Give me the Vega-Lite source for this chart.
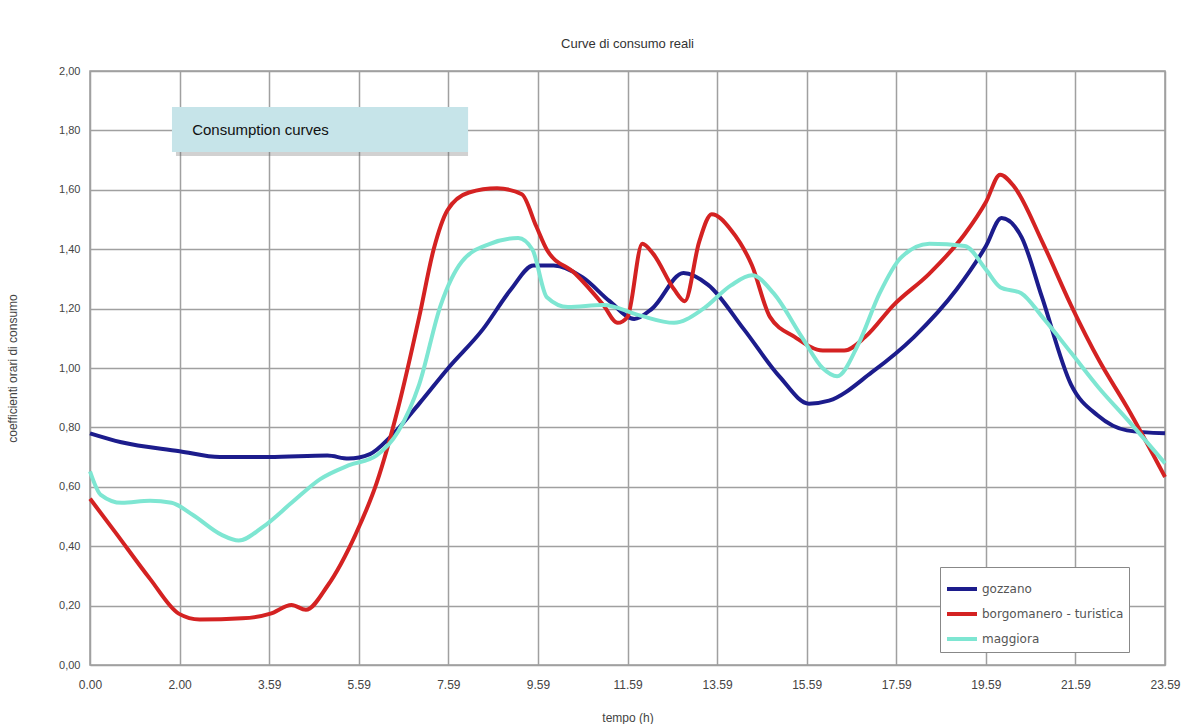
{
  "$schema": "https://vega.github.io/schema/vega-lite/v6.json",
  "autosize": {"type": "none"},
  "padding": {"left": 90, "top": 71, "right": 22, "bottom": 59},
  "width": 1075,
  "height": 594,
  "background": "#ffffff",
  "config": {
    "font": "Liberation Sans",
    "view": {"stroke": "#9a9a9a", "strokeWidth": 1.5}
  },
  "title": {
    "text": "Curve di consumo reali",
    "fontSize": 13,
    "fontWeight": "normal",
    "color": "#333333",
    "offset": 14,
    "anchor": "middle"
  },
  "datasets": {
    "curves": [
      {"serie": "gozzano", "h": 0, "v": 0.78},
      {"serie": "gozzano", "h": 0.7, "v": 0.75},
      {"serie": "gozzano", "h": 2.0, "v": 0.72},
      {"serie": "gozzano", "h": 2.9, "v": 0.70},
      {"serie": "gozzano", "h": 4.0, "v": 0.70},
      {"serie": "gozzano", "h": 5.3, "v": 0.705},
      {"serie": "gozzano", "h": 5.77, "v": 0.695},
      {"serie": "gozzano", "h": 6.25, "v": 0.71},
      {"serie": "gozzano", "h": 6.72, "v": 0.77},
      {"serie": "gozzano", "h": 7.35, "v": 0.88},
      {"serie": "gozzano", "h": 8.0, "v": 1.0},
      {"serie": "gozzano", "h": 8.77, "v": 1.13},
      {"serie": "gozzano", "h": 9.4, "v": 1.265},
      {"serie": "gozzano", "h": 9.9, "v": 1.345},
      {"serie": "gozzano", "h": 10.35, "v": 1.345},
      {"serie": "gozzano", "h": 11.0, "v": 1.305},
      {"serie": "gozzano", "h": 11.6, "v": 1.225},
      {"serie": "gozzano", "h": 12.15, "v": 1.165},
      {"serie": "gozzano", "h": 12.55, "v": 1.2},
      {"serie": "gozzano", "h": 13.25, "v": 1.32},
      {"serie": "gozzano", "h": 13.8, "v": 1.28},
      {"serie": "gozzano", "h": 14.6, "v": 1.13},
      {"serie": "gozzano", "h": 15.4, "v": 0.97},
      {"serie": "gozzano", "h": 16.05, "v": 0.88},
      {"serie": "gozzano", "h": 16.5, "v": 0.89},
      {"serie": "gozzano", "h": 17.45, "v": 0.985},
      {"serie": "gozzano", "h": 18.4, "v": 1.105},
      {"serie": "gozzano", "h": 19.35, "v": 1.265},
      {"serie": "gozzano", "h": 20.0, "v": 1.41},
      {"serie": "gozzano", "h": 20.35, "v": 1.505},
      {"serie": "gozzano", "h": 20.8, "v": 1.44},
      {"serie": "gozzano", "h": 21.25, "v": 1.24},
      {"serie": "gozzano", "h": 21.9, "v": 0.945},
      {"serie": "gozzano", "h": 22.5, "v": 0.84},
      {"serie": "gozzano", "h": 23.15, "v": 0.79},
      {"serie": "gozzano", "h": 24.0, "v": 0.78},

      {"serie": "borgomanero - turistica", "h": 0, "v": 0.56},
      {"serie": "borgomanero - turistica", "h": 0.55, "v": 0.45},
      {"serie": "borgomanero - turistica", "h": 1.34, "v": 0.29},
      {"serie": "borgomanero - turistica", "h": 1.98, "v": 0.173},
      {"serie": "borgomanero - turistica", "h": 2.45, "v": 0.153},
      {"serie": "borgomanero - turistica", "h": 3.4, "v": 0.157},
      {"serie": "borgomanero - turistica", "h": 4.03, "v": 0.173},
      {"serie": "borgomanero - turistica", "h": 4.5, "v": 0.202},
      {"serie": "borgomanero - turistica", "h": 4.82, "v": 0.186},
      {"serie": "borgomanero - turistica", "h": 5.3, "v": 0.266},
      {"serie": "borgomanero - turistica", "h": 5.93, "v": 0.44},
      {"serie": "borgomanero - turistica", "h": 6.4, "v": 0.613},
      {"serie": "borgomanero - turistica", "h": 6.88, "v": 0.866},
      {"serie": "borgomanero - turistica", "h": 7.35, "v": 1.172},
      {"serie": "borgomanero - turistica", "h": 7.67, "v": 1.398},
      {"serie": "borgomanero - turistica", "h": 7.98, "v": 1.531},
      {"serie": "borgomanero - turistica", "h": 8.46, "v": 1.591},
      {"serie": "borgomanero - turistica", "h": 9.09, "v": 1.605},
      {"serie": "borgomanero - turistica", "h": 9.64, "v": 1.585},
      {"serie": "borgomanero - turistica", "h": 9.96, "v": 1.478},
      {"serie": "borgomanero - turistica", "h": 10.2, "v": 1.398},
      {"serie": "borgomanero - turistica", "h": 10.83, "v": 1.318},
      {"serie": "borgomanero - turistica", "h": 11.46, "v": 1.212},
      {"serie": "borgomanero - turistica", "h": 11.78, "v": 1.152},
      {"serie": "borgomanero - turistica", "h": 12.0, "v": 1.172},
      {"serie": "borgomanero - turistica", "h": 12.33, "v": 1.418},
      {"serie": "borgomanero - turistica", "h": 12.57, "v": 1.385},
      {"serie": "borgomanero - turistica", "h": 13.04, "v": 1.265},
      {"serie": "borgomanero - turistica", "h": 13.28, "v": 1.225},
      {"serie": "borgomanero - turistica", "h": 13.6, "v": 1.425},
      {"serie": "borgomanero - turistica", "h": 13.88, "v": 1.518},
      {"serie": "borgomanero - turistica", "h": 14.31, "v": 1.465},
      {"serie": "borgomanero - turistica", "h": 14.78, "v": 1.345},
      {"serie": "borgomanero - turistica", "h": 15.18, "v": 1.172},
      {"serie": "borgomanero - turistica", "h": 15.73, "v": 1.105},
      {"serie": "borgomanero - turistica", "h": 16.36, "v": 1.059},
      {"serie": "borgomanero - turistica", "h": 16.84, "v": 1.059},
      {"serie": "borgomanero - turistica", "h": 17.31, "v": 1.105},
      {"serie": "borgomanero - turistica", "h": 17.94, "v": 1.212},
      {"serie": "borgomanero - turistica", "h": 18.74, "v": 1.318},
      {"serie": "borgomanero - turistica", "h": 19.53, "v": 1.451},
      {"serie": "borgomanero - turistica", "h": 20.0, "v": 1.558},
      {"serie": "borgomanero - turistica", "h": 20.32, "v": 1.651},
      {"serie": "borgomanero - turistica", "h": 20.63, "v": 1.611},
      {"serie": "borgomanero - turistica", "h": 21.26, "v": 1.425},
      {"serie": "borgomanero - turistica", "h": 21.9, "v": 1.212},
      {"serie": "borgomanero - turistica", "h": 22.53, "v": 1.025},
      {"serie": "borgomanero - turistica", "h": 23.16, "v": 0.866},
      {"serie": "borgomanero - turistica", "h": 24.0, "v": 0.633},

      {"serie": "maggiora", "h": 0, "v": 0.652},
      {"serie": "maggiora", "h": 0.24, "v": 0.573},
      {"serie": "maggiora", "h": 0.71, "v": 0.546},
      {"serie": "maggiora", "h": 1.34, "v": 0.553},
      {"serie": "maggiora", "h": 1.82, "v": 0.546},
      {"serie": "maggiora", "h": 2.29, "v": 0.506},
      {"serie": "maggiora", "h": 2.93, "v": 0.439},
      {"serie": "maggiora", "h": 3.32, "v": 0.419},
      {"serie": "maggiora", "h": 3.87, "v": 0.466},
      {"serie": "maggiora", "h": 4.5, "v": 0.546},
      {"serie": "maggiora", "h": 5.14, "v": 0.626},
      {"serie": "maggiora", "h": 5.77, "v": 0.672},
      {"serie": "maggiora", "h": 6.4, "v": 0.706},
      {"serie": "maggiora", "h": 6.88, "v": 0.786},
      {"serie": "maggiora", "h": 7.35, "v": 0.945},
      {"serie": "maggiora", "h": 7.83, "v": 1.212},
      {"serie": "maggiora", "h": 8.3, "v": 1.358},
      {"serie": "maggiora", "h": 8.93, "v": 1.418},
      {"serie": "maggiora", "h": 9.56, "v": 1.438},
      {"serie": "maggiora", "h": 9.88, "v": 1.398},
      {"serie": "maggiora", "h": 10.2, "v": 1.238},
      {"serie": "maggiora", "h": 10.67, "v": 1.205},
      {"serie": "maggiora", "h": 11.46, "v": 1.212},
      {"serie": "maggiora", "h": 12.25, "v": 1.178},
      {"serie": "maggiora", "h": 13.04, "v": 1.152},
      {"serie": "maggiora", "h": 13.68, "v": 1.198},
      {"serie": "maggiora", "h": 14.31, "v": 1.278},
      {"serie": "maggiora", "h": 14.78, "v": 1.312},
      {"serie": "maggiora", "h": 15.26, "v": 1.252},
      {"serie": "maggiora", "h": 15.89, "v": 1.105},
      {"serie": "maggiora", "h": 16.36, "v": 0.999},
      {"serie": "maggiora", "h": 16.68, "v": 0.972},
      {"serie": "maggiora", "h": 17.15, "v": 1.079},
      {"serie": "maggiora", "h": 17.63, "v": 1.252},
      {"serie": "maggiora", "h": 18.1, "v": 1.371},
      {"serie": "maggiora", "h": 18.74, "v": 1.418},
      {"serie": "maggiora", "h": 19.53, "v": 1.411},
      {"serie": "maggiora", "h": 20.0, "v": 1.332},
      {"serie": "maggiora", "h": 20.32, "v": 1.272},
      {"serie": "maggiora", "h": 20.79, "v": 1.252},
      {"serie": "maggiora", "h": 21.26, "v": 1.172},
      {"serie": "maggiora", "h": 21.9, "v": 1.052},
      {"serie": "maggiora", "h": 22.53, "v": 0.932},
      {"serie": "maggiora", "h": 23.16, "v": 0.826},
      {"serie": "maggiora", "h": 24.0, "v": 0.679}
    ],
    "note": [
      {"x1": 1.83, "x2": 8.44, "y1": 1.727, "y2": 1.879, "tx": 2.28, "ty": 1.801, "label": "Consumption curves"}
    ]
  },
  "layer": [
    {
      "data": {"name": "curves"},
      "mark": {"type": "line", "strokeWidth": 4, "interpolate": "monotone"},
      "encoding": {
        "x": {
          "field": "h",
          "type": "quantitative",
          "scale": {"domain": [0, 24], "nice": false, "zero": false},
          "axis": {
            "values": [0, 2, 4, 6, 8, 10, 12, 14, 16, 18, 20, 22, 24],
            "labelExpr": "['0.00','2.00','3.59','5.59','7.59','9.59','11.59','13.59','15.59','17.59','19.59','21.59','23.59'][round(datum.value/2)]",
            "title": "tempo (h)",
            "titleFontSize": 12,
            "titleFontWeight": "normal",
            "titleColor": "#444444",
            "titleY": 52,
            "titleBaseline": "middle",
            "labelFontSize": 12,
            "labelColor": "#444444",
            "labelPadding": 14,
            "labelFlush": false,
            "ticks": false,
            "domain": false,
            "grid": true,
            "gridColor": "#a0a0a0",
            "gridWidth": 1.5
          }
        },
        "y": {
          "field": "v",
          "type": "quantitative",
          "scale": {"domain": [0, 2], "nice": false},
          "axis": {
            "values": [0, 0.2, 0.4, 0.6, 0.8, 1.0, 1.2, 1.4, 1.6, 1.8, 2.0],
            "labelExpr": "replace(format(datum.value, '.2f'), '.', ',')",
            "title": "coefficienti orari di consumo",
            "titleFontSize": 12,
            "titleFontWeight": "normal",
            "titleColor": "#444444",
            "titleX": -78,
            "titleY": 297,
            "titleAlign": "center",
            "titleBaseline": "middle",
            "labelFontSize": 11,
            "labelColor": "#444444",
            "labelPadding": 10,
            "ticks": false,
            "domain": false,
            "grid": true,
            "gridColor": "#a0a0a0",
            "gridWidth": 1.5
          }
        },
        "color": {
          "field": "serie",
          "type": "nominal",
          "scale": {
            "domain": ["gozzano", "borgomanero - turistica", "maggiora"],
            "range": ["#1c1c8c", "#d42222", "#7ee6d2"]
          },
          "legend": {
            "title": null,
            "orient": "none",
            "legendX": 850,
            "legendY": 496,
            "symbolType": "stroke",
            "symbolStrokeWidth": 4,
            "symbolSize": 900,
            "labelFont": "DejaVu Sans",
            "labelFontSize": 12,
            "labelColor": "#555555",
            "labelOffset": 3,
            "rowPadding": 0,
            "fillColor": "#ffffff",
            "strokeColor": "#888888",
            "padding": 5
          }
        }
      }
    },
    {
      "data": {"name": "note"},
      "mark": {"type": "rect", "fill": "#666666", "opacity": 0.3, "xOffset": 4, "yOffset": 4},
      "encoding": {
        "x": {"field": "x1", "type": "quantitative"},
        "x2": {"field": "x2"},
        "y": {"field": "y1", "type": "quantitative"},
        "y2": {"field": "y2"}
      }
    },
    {
      "data": {"name": "note"},
      "mark": {"type": "rect", "fill": "#c6e4e9"},
      "encoding": {
        "x": {"field": "x1", "type": "quantitative"},
        "x2": {"field": "x2"},
        "y": {"field": "y1", "type": "quantitative"},
        "y2": {"field": "y2"}
      }
    },
    {
      "data": {"name": "note"},
      "mark": {"type": "text", "align": "left", "baseline": "middle", "fontSize": 15, "color": "#111111", "font": "Liberation Sans"},
      "encoding": {
        "x": {"field": "tx", "type": "quantitative"},
        "y": {"field": "ty", "type": "quantitative"},
        "text": {"field": "label"}
      }
    }
  ]
}
